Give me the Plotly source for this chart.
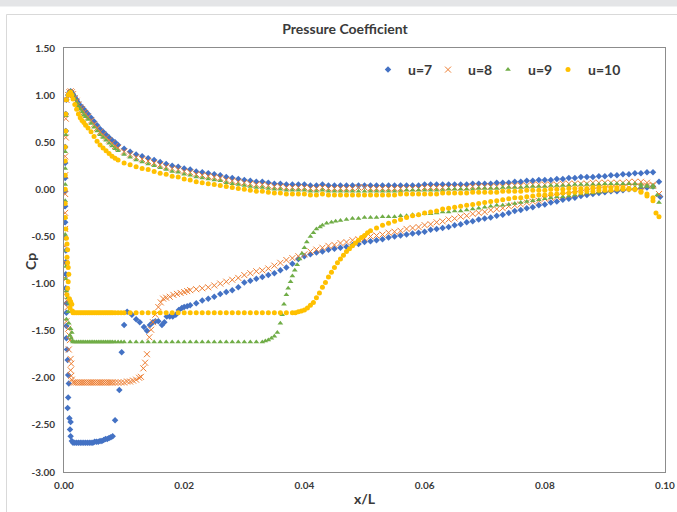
import plotly.graph_objects as go

# ---------------------------------------------------------------------------
# Pressure coefficient along the chord (x/L) for four flow speeds
# ---------------------------------------------------------------------------

# chordwise stations shared by the smooth parts of every curve
GRID_X = [0.009, 0.010, 0.011, 0.012, 0.013, 0.014, 0.015, 0.016, 0.017, 0.018,
          0.019, 0.020, 0.021, 0.022, 0.023, 0.024, 0.025, 0.026, 0.027, 0.028,
          0.029, 0.030, 0.031, 0.032, 0.033, 0.034, 0.035, 0.036, 0.037, 0.038,
          0.039, 0.040, 0.041, 0.042, 0.043, 0.044, 0.045, 0.046, 0.047, 0.048,
          0.049, 0.050, 0.051, 0.052, 0.053, 0.054, 0.055, 0.056, 0.057, 0.058,
          0.059, 0.060, 0.061, 0.062, 0.063, 0.064, 0.065, 0.066, 0.067, 0.068,
          0.069, 0.070, 0.071, 0.072, 0.073, 0.074, 0.075, 0.076, 0.077, 0.078,
          0.079, 0.080, 0.081, 0.082, 0.083, 0.084, 0.085, 0.086, 0.087, 0.088,
          0.089, 0.090, 0.091, 0.092, 0.093, 0.094, 0.095, 0.096, 0.097, 0.098]

# fine stations near the leading edge (upper side)
UP_LE_X = [0.0007, 0.0009, 0.0011, 0.0013, 0.0015, 0.0018, 0.0021, 0.0024, 0.0027,
           0.0030, 0.0033, 0.0036, 0.0040, 0.0045, 0.0050, 0.0055, 0.0060, 0.0065,
           0.0070, 0.0075, 0.0080, 0.0085]

# fine stations of the low-pressure plateau just behind the leading edge
PLATEAU_X = [0.0015, 0.0018, 0.0021, 0.0024, 0.0027, 0.0030, 0.0033, 0.0036,
             0.0039, 0.0042, 0.0045, 0.0048, 0.0051, 0.0054, 0.0057, 0.0060,
             0.0063, 0.0066, 0.0069, 0.0072, 0.0075, 0.0078, 0.0081]

# ---------------- upper side: Cp on UP_LE_X + GRID_X ----------------
U7_UP = [1.00, 1.03, 1.04, 1.03, 1.01, 0.98, 0.95, 0.92, 0.89, 0.87, 0.85, 0.83,
         0.80, 0.76, 0.72, 0.68, 0.64, 0.61, 0.58, 0.55, 0.52, 0.50,
         0.47, 0.43,
         0.40, 0.37, 0.35, 0.33, 0.31, 0.29, 0.27, 0.25, 0.24, 0.22,
         0.21, 0.19, 0.18, 0.17, 0.16, 0.15, 0.13, 0.12, 0.11, 0.10,
         0.09, 0.08, 0.08, 0.07, 0.06, 0.06, 0.05, 0.05, 0.05, 0.05,
         0.04, 0.04, 0.05, 0.04, 0.04, 0.04, 0.04, 0.04, 0.04, 0.04,
         0.04, 0.04, 0.04, 0.04, 0.04, 0.04, 0.04, 0.04, 0.04, 0.05,
         0.05, 0.05, 0.05, 0.05, 0.05, 0.05, 0.05, 0.06, 0.06, 0.06,
         0.06, 0.07, 0.07, 0.07, 0.08, 0.08, 0.09, 0.09, 0.10, 0.10,
         0.10, 0.11, 0.11, 0.12, 0.12, 0.13, 0.13, 0.13, 0.14, 0.14,
         0.15, 0.15, 0.16, 0.16, 0.17, 0.17, 0.18, 0.18]

U8_UP = [1.00, 1.03, 1.04, 1.03, 1.01, 0.97, 0.94, 0.90, 0.87, 0.85, 0.82, 0.80,
         0.77, 0.73, 0.69, 0.65, 0.61, 0.58, 0.55, 0.52, 0.49, 0.46,
         0.44, 0.40,
         0.37, 0.34, 0.32, 0.30, 0.28, 0.26, 0.24, 0.22, 0.21, 0.19,
         0.18, 0.16, 0.15, 0.14, 0.13, 0.12, 0.10, 0.09, 0.08, 0.07,
         0.06, 0.05, 0.05, 0.04, 0.03, 0.03, 0.02, 0.02, 0.02, 0.02,
         0.01, 0.01, 0.02, 0.01, 0.01, 0.01, 0.01, 0.01, 0.02, 0.02,
         0.01, 0.01, 0.01, 0.01, 0.01, 0.01, 0.01, 0.01, 0.01, 0.02,
         0.02, 0.02, 0.02, 0.02, 0.02, 0.02, 0.02, 0.03, 0.03, 0.03,
         0.03, 0.03, 0.03, 0.04, 0.04, 0.04, 0.04, 0.05, 0.05, 0.05,
         0.05, 0.05, 0.06, 0.06, 0.06, 0.06, 0.06, 0.07, 0.07, 0.07,
         0.07, 0.07, 0.07, 0.08, 0.08, 0.08, 0.07, 0.05]

U9_UP = [1.00, 1.03, 1.04, 1.02, 1.00, 0.96, 0.92, 0.88, 0.85, 0.82, 0.79, 0.77,
         0.74, 0.70, 0.66, 0.62, 0.58, 0.55, 0.52, 0.49, 0.46, 0.43,
         0.41, 0.37,
         0.34, 0.31, 0.29, 0.27, 0.25, 0.23, 0.21, 0.19, 0.18, 0.16,
         0.15, 0.13, 0.12, 0.11, 0.10, 0.09, 0.07, 0.06, 0.05, 0.04,
         0.03, 0.02, 0.02, 0.01, 0.00, 0.00, -0.01, -0.01, -0.01, -0.01,
         -0.02, -0.02, -0.01, -0.02, -0.02, -0.02, -0.02, -0.02, -0.02, -0.02,
         -0.02, -0.02, -0.02, -0.02, -0.02, -0.02, -0.01, -0.01, -0.01, -0.01,
         -0.01, -0.01, -0.01, 0.00, 0.00, 0.00, 0.00, 0.00, 0.01, 0.01,
         0.01, 0.01, 0.02, 0.02, 0.02, 0.02, 0.03, 0.03, 0.03, 0.03,
         0.04, 0.04, 0.04, 0.04, 0.05, 0.05, 0.05, 0.05, 0.05, 0.06,
         0.06, 0.06, 0.06, 0.06, 0.06, 0.05, 0.04, 0.02]

U10_UP = [1.00, 1.02, 1.03, 1.00, 0.96, 0.90, 0.85, 0.80, 0.76, 0.73, 0.71, 0.68,
          0.65, 0.61, 0.56, 0.51, 0.47, 0.44, 0.41, 0.38, 0.35, 0.33,
          0.31, 0.28,
          0.26, 0.24, 0.22, 0.21, 0.19, 0.17, 0.16, 0.14, 0.13, 0.11,
          0.10, 0.08, 0.07, 0.06, 0.05, 0.04, 0.03, 0.02, 0.01, 0.00,
          -0.01, -0.02, -0.02, -0.03, -0.04, -0.04, -0.05, -0.05, -0.05, -0.05,
          -0.06, -0.06, -0.05, -0.06, -0.06, -0.06, -0.06, -0.06, -0.06, -0.06,
          -0.06, -0.06, -0.06, -0.06, -0.06, -0.05, -0.05, -0.05, -0.05, -0.05,
          -0.05, -0.05, -0.04, -0.04, -0.04, -0.04, -0.04, -0.03, -0.03, -0.03,
          -0.03, -0.03, -0.02, -0.02, -0.02, -0.02, -0.01, -0.01, -0.01, -0.01,
          0.00, 0.00, 0.00, 0.01, 0.01, 0.01, 0.01, 0.02, 0.02, 0.02,
          0.02, 0.02, 0.02, 0.01, 0.00, -0.03, -0.07, -0.12]

# ---------------- lower side, u=7 ----------------
L7_HEAD_X = [0.0004, 0.0003, 0.0003, 0.0002, 0.0002, 0.0002, 0.0002, 0.0002, 0.0002,
             0.0002, 0.0003, 0.0003, 0.0003, 0.0003, 0.0004, 0.0004, 0.0004, 0.0004,
             0.0005, 0.0006, 0.0007, 0.0008, 0.0007, 0.0006, 0.0009, 0.0011, 0.0010,
             0.0011, 0.0013]
L7_HEAD_CP = [0.95, 0.80, 0.62, 0.45, 0.28, 0.12, -0.02, -0.18, -0.35, -0.51,
              -0.65, -0.77, -0.90, -1.05, -1.21, -1.31, -1.45, -1.58, -1.70, -1.81,
              -1.97, -2.06, -2.21, -2.32, -2.43, -2.47, -2.55, -2.62, -2.67]
L7_PLATEAU = [-2.69, -2.69, -2.69, -2.69, -2.69, -2.69, -2.69, -2.69, -2.69, -2.69,
              -2.69, -2.69, -2.68, -2.68, -2.68, -2.67, -2.67, -2.66, -2.65, -2.65,
              -2.64, -2.63, -2.62]
L7_MID_X = [0.0085, 0.0092, 0.0096, 0.0100, 0.0105, 0.0113, 0.0120, 0.0126, 0.0133,
            0.0138, 0.0143, 0.0148, 0.0152, 0.0157, 0.0163, 0.0167, 0.0171, 0.0176,
            0.0181, 0.0186, 0.0191, 0.0196, 0.0200, 0.0205]
L7_MID_CP = [-2.45, -2.13, -1.73, -1.44, -1.30, -1.33, -1.38, -1.41, -1.46, -1.50,
             -1.44, -1.41, -1.40, -1.40, -1.44, -1.41, -1.35, -1.35, -1.35, -1.33,
             -1.28, -1.26, -1.25, -1.24]
L7_TAIL = [-1.23, -1.21, -1.18, -1.16, -1.14, -1.11, -1.09, -1.07, -1.04, -0.99,
           -0.97, -0.95, -0.93, -0.91, -0.89, -0.86, -0.83, -0.79, -0.74, -0.71,
           -0.69, -0.67, -0.66, -0.64, -0.63, -0.62, -0.61, -0.59, -0.58, -0.56,
           -0.55, -0.54, -0.53, -0.51, -0.50, -0.49, -0.48, -0.47, -0.46, -0.45,
           -0.43, -0.42, -0.41, -0.40, -0.38, -0.37, -0.35, -0.34, -0.32, -0.31,
           -0.30, -0.28, -0.27, -0.25, -0.23, -0.22, -0.20, -0.19, -0.17, -0.16,
           -0.14, -0.13, -0.11, -0.10, -0.09, -0.07, -0.06, -0.05, -0.04, -0.03,
           -0.02, -0.02, -0.01, 0.00, 0.00, 0.01, 0.02, 0.03]
L7_TE_X = [0.0990, 0.0992]
L7_TE_CP = [0.08, -0.08]

# ---------------- lower side, u=8 ----------------
L8_HEAD_X = [0.0004, 0.0003, 0.0003, 0.0002, 0.0002, 0.0002, 0.0002, 0.0002, 0.0002,
             0.0003, 0.0003, 0.0003, 0.0005, 0.0006, 0.0004, 0.0007, 0.0009, 0.0010,
             0.0008, 0.0011, 0.0012, 0.0011, 0.0012, 0.0013]
L8_HEAD_CP = [0.95, 0.75, 0.55, 0.35, 0.15, -0.05, -0.25, -0.42, -0.60, -0.78,
              -0.95, -1.10, -1.18, -1.25, -1.40, -1.48, -1.55, -1.60, -1.70, -1.80,
              -1.85, -1.92, -1.98, -2.02]
L8_PLATEAU = [-2.05, -2.05, -2.05, -2.05, -2.05, -2.05, -2.05, -2.05, -2.05, -2.05,
              -2.05, -2.05, -2.05, -2.05, -2.05, -2.05, -2.05, -2.05, -2.05, -2.05,
              -2.05, -2.05, -2.05]
L8_MID_X = [0.0085, 0.0090, 0.0095, 0.0100, 0.0105, 0.0110, 0.0115, 0.0120, 0.0125,
            0.0128, 0.0132, 0.0135, 0.0138, 0.0142, 0.0145, 0.0148, 0.0152, 0.0157,
            0.0161, 0.0165, 0.0170, 0.0176, 0.0182, 0.0188, 0.0194, 0.0200, 0.0205]
L8_MID_CP = [-2.05, -2.05, -2.05, -2.05, -2.04, -2.04, -2.03, -2.02, -2.00, -1.99,
             -1.90, -1.84, -1.75, -1.57, -1.49, -1.41, -1.33, -1.25, -1.20, -1.16,
             -1.15, -1.14, -1.12, -1.11, -1.10, -1.09, -1.08]
L8_TAIL = [-1.07, -1.06, -1.05, -1.04, -1.02, -1.00, -0.98, -0.96, -0.94, -0.91,
           -0.89, -0.87, -0.86, -0.84, -0.81, -0.78, -0.75, -0.73, -0.71, -0.69,
           -0.66, -0.64, -0.62, -0.60, -0.59, -0.57, -0.56, -0.54, -0.53, -0.52,
           -0.50, -0.49, -0.48, -0.46, -0.45, -0.44, -0.42, -0.41, -0.40, -0.38,
           -0.37, -0.35, -0.34, -0.32, -0.31, -0.29, -0.28, -0.26, -0.25, -0.24,
           -0.22, -0.21, -0.20, -0.18, -0.17, -0.16, -0.14, -0.13, -0.12, -0.10,
           -0.09, -0.08, -0.07, -0.06, -0.05, -0.04, -0.03, -0.02, -0.01, 0.00,
           0.00, 0.01, 0.02, 0.02, 0.03, 0.03, 0.04, 0.04]
L8_TE_X = [0.0990]
L8_TE_CP = [-0.05]

# ---------------- lower side, u=9 ----------------
L9_HEAD_X = [0.0004, 0.0003, 0.0003, 0.0002, 0.0002, 0.0002, 0.0002, 0.0002, 0.0002,
             0.0003, 0.0003, 0.0003, 0.0004, 0.0006, 0.0008, 0.0010, 0.0007, 0.0004,
             0.0008, 0.0011, 0.0013, 0.0010, 0.0012, 0.0014]
L9_HEAD_CP = [0.95, 0.78, 0.58, 0.40, 0.22, 0.05, -0.12, -0.30, -0.48, -0.65,
              -0.82, -0.95, -1.08, -1.15, -1.20, -1.22, -1.30, -1.38, -1.42, -1.48,
              -1.52, -1.55, -1.58, -1.61]
L9_PLATEAU = [-1.62, -1.62, -1.62, -1.62, -1.62, -1.62, -1.62, -1.62, -1.62, -1.62,
              -1.62, -1.62, -1.62, -1.62, -1.62, -1.62, -1.62, -1.62, -1.62, -1.62,
              -1.62, -1.62, -1.62]
L9_MID_X = [0.0085, 0.0090, 0.0095, 0.0100, 0.0110, 0.0120, 0.0130, 0.0140, 0.0150,
            0.0160, 0.0170, 0.0180, 0.0190, 0.0200, 0.0210, 0.0220, 0.0230, 0.0240,
            0.0250, 0.0260, 0.0270, 0.0280, 0.0290, 0.0300, 0.0310, 0.0320, 0.0330,
            0.0335, 0.0340, 0.0345, 0.0350, 0.0355, 0.0360, 0.0363, 0.0366, 0.0370,
            0.0373, 0.0377, 0.0380, 0.0384, 0.0388, 0.0392, 0.0396, 0.0400, 0.0404,
            0.0410, 0.0415, 0.0420, 0.0426, 0.0430, 0.0437, 0.0445, 0.0452]
L9_MID_CP = [-1.62, -1.62, -1.62, -1.62, -1.62, -1.62, -1.62, -1.62, -1.62,
             -1.62, -1.62, -1.62, -1.62, -1.62, -1.62, -1.62, -1.62, -1.62,
             -1.62, -1.62, -1.62, -1.62, -1.62, -1.62, -1.62, -1.62, -1.62,
             -1.61, -1.60, -1.58, -1.56, -1.52, -1.42, -1.33, -1.22, -1.12,
             -1.05, -0.98, -0.92, -0.86, -0.80, -0.74, -0.68, -0.62, -0.56,
             -0.50, -0.46, -0.42, -0.40, -0.38, -0.36, -0.35, -0.34]
L9_TAIL = [-0.33, -0.32, -0.31, -0.31, -0.30,
           -0.30, -0.30, -0.29, -0.29, -0.29, -0.28, -0.28, -0.27, -0.27, -0.26,
           -0.26, -0.25, -0.24, -0.24, -0.23, -0.23, -0.22, -0.21, -0.20, -0.19,
           -0.18, -0.17, -0.17, -0.16, -0.15, -0.14, -0.13, -0.12, -0.11, -0.10,
           -0.09, -0.08, -0.08, -0.07, -0.06, -0.05, -0.04, -0.04, -0.03, -0.02,
           -0.01, 0.00, 0.01, 0.01, 0.02, 0.03, 0.03, 0.04]
L9_TE_X = [0.0987, 0.0990]
L9_TE_CP = [-0.06, -0.14]

# ---------------- lower side, u=10 ----------------
L10_HEAD_X = [0.0004, 0.0003, 0.0003, 0.0002, 0.0002, 0.0002, 0.0002, 0.0002, 0.0002,
              0.0003, 0.0004, 0.0005, 0.0006, 0.0005, 0.0006, 0.0007, 0.0008, 0.0007,
              0.0006, 0.0005, 0.0009, 0.0011, 0.0013, 0.0010, 0.0014]
L10_HEAD_CP = [0.95, 0.80, 0.62, 0.45, 0.30, 0.15, 0.00, -0.15, -0.30, -0.42,
               -0.52, -0.58, -0.64, -0.72, -0.78, -0.83, -0.90, -0.98, -1.05, -1.12,
               -1.16, -1.19, -1.22, -1.26, -1.29]
L10_PLATEAU = [-1.31, -1.31, -1.31, -1.31, -1.31, -1.31, -1.31, -1.31, -1.31, -1.31,
               -1.31, -1.31, -1.31, -1.31, -1.31, -1.31, -1.31, -1.31, -1.31, -1.31,
               -1.31, -1.31, -1.31]
L10_MID_X = [0.0085, 0.0090, 0.0095, 0.0100, 0.0110, 0.0120, 0.0130, 0.0140, 0.0150,
             0.0160, 0.0170, 0.0180, 0.0190, 0.0200, 0.0210, 0.0220, 0.0230, 0.0240,
             0.0250, 0.0260, 0.0270, 0.0280, 0.0290, 0.0300, 0.0310, 0.0320, 0.0330,
             0.0340, 0.0350, 0.0360, 0.0370,
             0.0380, 0.0385, 0.0390, 0.0395, 0.0400, 0.0405, 0.0410, 0.0415, 0.0420,
             0.0425, 0.0430, 0.0435, 0.0440, 0.0445, 0.0450, 0.0455, 0.0460, 0.0465,
             0.0470, 0.0475, 0.0480, 0.0485, 0.0490, 0.0495, 0.0500, 0.0505]
L10_MID_CP = [-1.31, -1.31, -1.31, -1.31, -1.31, -1.31, -1.31, -1.31, -1.31,
              -1.31, -1.31, -1.31, -1.31, -1.31, -1.31, -1.31, -1.31, -1.31,
              -1.31, -1.31, -1.31, -1.31, -1.31, -1.31, -1.31, -1.31, -1.31,
              -1.31, -1.31, -1.31, -1.31,
              -1.31, -1.31, -1.30, -1.29, -1.28, -1.26, -1.23, -1.20, -1.15,
              -1.10, -1.04, -0.99, -0.93, -0.88, -0.83, -0.78, -0.74, -0.70,
              -0.66, -0.63, -0.60, -0.57, -0.54, -0.51, -0.49, -0.46]
L10_TAIL = [-0.44, -0.41, -0.38, -0.36, -0.34, -0.32, -0.30, -0.28, -0.27, -0.25,
            -0.24, -0.23, -0.21, -0.20, -0.19, -0.18, -0.17, -0.16, -0.15, -0.14,
            -0.13, -0.12, -0.11, -0.10, -0.09, -0.09, -0.08, -0.07, -0.06, -0.06,
            -0.05, -0.05, -0.04, -0.04, -0.03, -0.03, -0.02, -0.02, -0.01, -0.01,
            -0.01, 0.00, 0.00, 0.00, 0.00, -0.02, -0.05, -0.09]
L10_TE_X = [0.0985, 0.0990]
L10_TE_CP = [-0.25, -0.29]

# axis ticks
X_TICKS = [0.00, 0.02, 0.04, 0.06, 0.08, 0.10]
X_TICK_TEXT = ["0.00", "0.02", "0.04", "0.06", "0.08", "0.10"]
Y_TICKS = [-3.0, -2.5, -2.0, -1.5, -1.0, -0.5, 0.0, 0.5, 1.0, 1.5]
Y_TICK_TEXT = ["-3.00", "-2.50", "-2.00", "-1.50", "-1.00", "-0.50",
               "0.00", "0.50", "1.00", "1.50"]

SERIES_NAMES = ["u=7", "u=8", "u=9", "u=10"]


def assemble(up_cp, head_x, head_cp, plateau_cp, mid_x, mid_cp, tail_cp, te_x, te_cp):
    """Join the upper and lower sides of one speed into a single point set."""
    up_x = UP_LE_X + GRID_X
    tail_x = GRID_X[len(GRID_X) - len(tail_cp):]
    xs = up_x + head_x + PLATEAU_X + mid_x + tail_x + te_x
    ys = up_cp + head_cp + plateau_cp + mid_cp + tail_cp + te_cp
    return xs, ys


curves = [
    assemble(U7_UP, L7_HEAD_X, L7_HEAD_CP, L7_PLATEAU, L7_MID_X, L7_MID_CP,
             L7_TAIL, L7_TE_X, L7_TE_CP),
    assemble(U8_UP, L8_HEAD_X, L8_HEAD_CP, L8_PLATEAU, L8_MID_X, L8_MID_CP,
             L8_TAIL, L8_TE_X, L8_TE_CP),
    assemble(U9_UP, L9_HEAD_X, L9_HEAD_CP, L9_PLATEAU, L9_MID_X, L9_MID_CP,
             L9_TAIL, L9_TE_X, L9_TE_CP),
    assemble(U10_UP, L10_HEAD_X, L10_HEAD_CP, L10_PLATEAU, L10_MID_X, L10_MID_CP,
             L10_TAIL, L10_TE_X, L10_TE_CP),
]

markers = [
    dict(symbol="diamond", size=5, color="#4472C4"),
    dict(symbol="x-thin", size=6, color="#ED7D31", line=dict(color="#ED7D31", width=1)),
    dict(symbol="triangle-up", size=5, color="#70AD47"),
    dict(symbol="circle", size=5, color="#FFC000"),
]
# legend entry widths (px) so the keys sit evenly spaced
LEGEND_WIDTHS = [15, 15, 15, 40]

FONT = "Lato, 'Open Sans', sans-serif"
TXT = "#3a3a3a"

fig = go.Figure()
for name, (xs, ys), mk, lw in zip(SERIES_NAMES, curves, markers, LEGEND_WIDTHS):
    fig.add_trace(go.Scatter(x=xs, y=ys, mode="markers", name=name, marker=mk,
                             legendwidth=lw, cliponaxis=True))

W, H = 677, 512
ML, MR, MT, MB = 64, 12, 48, 40
PW, PH = W - ML - MR, H - MT - MB


def px_x(p):
    return (p - ML) / PW


def px_y(p):
    return (H - MB - p) / PH


fig.update_layout(
    width=W, height=H,
    margin=dict(l=ML, r=MR, t=MT, b=MB, pad=0),
    paper_bgcolor="white", plot_bgcolor="white",
    font=dict(family=FONT, color=TXT),
    title=dict(text="Pressure Coefficient", x=345 / W, xref="container",
               xanchor="center", y=1 - 29 / H, yref="container", yanchor="middle",
               font=dict(family=FONT, size=14, weight="bold", color=TXT)),
    showlegend=True,
    legend=dict(orientation="h", x=px_x(368), xanchor="left", y=px_y(70),
                yanchor="middle", bgcolor="rgba(0,0,0,0)",
                font=dict(family=FONT, size=14, weight="bold", color=TXT)),
    xaxis=dict(range=[0, 0.1], tickvals=X_TICKS, ticktext=X_TICK_TEXT,
               showgrid=False, zeroline=False, showline=True, linecolor="#8c8c8c",
               linewidth=1, mirror=True, ticks="", ticklabelstandoff=4,
               automargin=False,
               tickfont=dict(family=FONT, size=10, weight="bold", color=TXT),
               title=dict(text="x/L", standoff=4,
                          font=dict(family=FONT, size=14, weight="bold", color=TXT))),
    yaxis=dict(range=[-3, 1.5], tickvals=Y_TICKS, ticktext=Y_TICK_TEXT,
               showgrid=False, zeroline=False, showline=True, linecolor="#8c8c8c",
               linewidth=1, mirror=True, ticks="", ticklabelstandoff=6,
               automargin=False,
               tickfont=dict(family=FONT, size=10, weight="bold", color=TXT)),
    annotations=[
        dict(text="Cp", textangle=-90, xref="paper", yref="paper",
             x=px_x(30), y=px_y(262), xanchor="center", yanchor="middle",
             showarrow=False,
             font=dict(family=FONT, size=14, weight="bold", color=TXT)),
    ],
    shapes=[
        # grey strip along the top edge of the page
        dict(type="rect", xref="paper", yref="paper", x0=px_x(-5), x1=px_x(W + 5),
             y0=px_y(6.5), y1=px_y(-5), fillcolor="#e4e5e7", line=dict(width=0),
             layer="below"),
        # thin frame around the chart area
        dict(type="rect", xref="paper", yref="paper", x0=px_x(6.5), x1=px_x(W + 5),
             y0=px_y(H + 5), y1=px_y(14.5), fillcolor="rgba(0,0,0,0)",
             line=dict(color="#d9d9d9", width=1), layer="below"),
    ],
)

fig.write_html("out.html")
